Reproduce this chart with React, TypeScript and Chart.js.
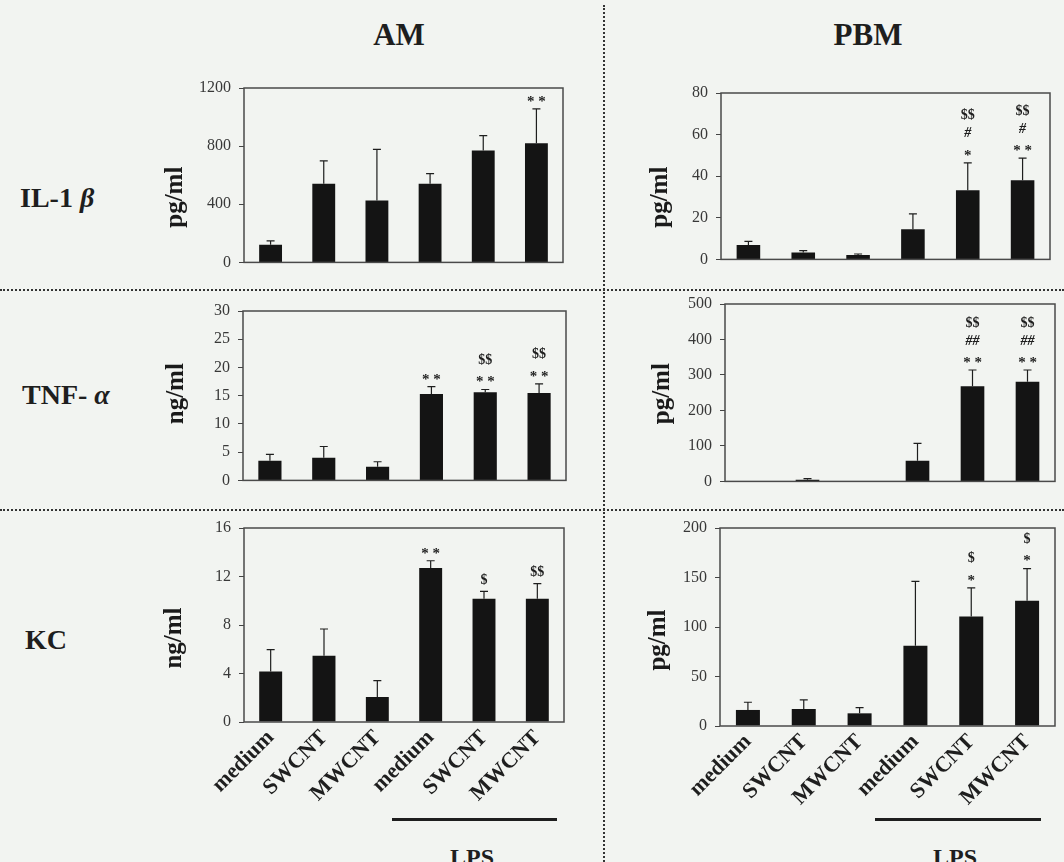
import React, { useEffect, useRef } from 'react';
import { Chart, registerables } from 'chart.js';

Chart.register(...registerables);

// ---------- data ----------
const categories = ['medium', 'SWCNT', 'MWCNT', 'medium', 'SWCNT', 'MWCNT'];

const amIl1bMean = [122, 541, 426, 541, 770, 820];
const amIl1bErr = [26, 157, 352, 70, 102, 237];
const amIl1bTicks = [0, 400, 800, 1200];
const amIl1bSig = [[], [], [], [], [], ['**']];

const pbmIl1bMean = [6.9, 3.3, 2.1, 14.5, 33.2, 38.0];
const pbmIl1bErr = [1.8, 0.9, 0.5, 7.4, 13.2, 10.7];
const pbmIl1bTicks = [0, 20, 40, 60, 80];
const pbmIl1bSig = [[], [], [], [], ['*', '#', '$$'], ['**', '#', '$$']];

const amTnfMean = [3.5, 4.0, 2.4, 15.3, 15.6, 15.5];
const amTnfErr = [1.1, 2.0, 0.9, 1.3, 0.5, 1.6];
const amTnfTicks = [0, 5, 10, 15, 20, 25, 30];
const amTnfSig = [[], [], [], ['**'], ['**', '$$'], ['**', '$$']];

const pbmTnfMean = [0, 5, 0, 58, 268, 281];
const pbmTnfErr = [0, 3, 0, 49, 46, 33];
const pbmTnfTicks = [0, 100, 200, 300, 400, 500];
const pbmTnfSig = [[], [], [], [], ['**', '##', '$$'], ['**', '##', '$$']];

const amKcMean = [4.17, 5.47, 2.06, 12.7, 10.17, 10.17];
const amKcErr = [1.8, 2.2, 1.35, 0.6, 0.6, 1.25];
const amKcTicks = [0, 4, 8, 12, 16];
const amKcSig = [[], [], [], ['**'], ['$'], ['$$']];

const pbmKcMean = [16.2, 17.2, 12.8, 81, 110.6, 126.5];
const pbmKcErr = [7.8, 9.1, 5.7, 65, 29, 32.5];
const pbmKcTicks = [0, 50, 100, 150, 200];
const pbmKcSig = [[], [], [], [], ['*', '$'], ['*', '$']];

const columnTitles = ['AM', 'PBM'];
const groupLabel = 'LPS';

// ---------- panels (built from the arrays) ----------
const panels = [
  { mean: amIl1bMean, err: amIl1bErr, ticks: amIl1bTicks, sig: amIl1bSig, unit: 'pg/ml' },
  { mean: pbmIl1bMean, err: pbmIl1bErr, ticks: pbmIl1bTicks, sig: pbmIl1bSig, unit: 'pg/ml' },
  { mean: amTnfMean, err: amTnfErr, ticks: amTnfTicks, sig: amTnfSig, unit: 'ng/ml' },
  { mean: pbmTnfMean, err: pbmTnfErr, ticks: pbmTnfTicks, sig: pbmTnfSig, unit: 'pg/ml' },
  { mean: amKcMean, err: amKcErr, ticks: amKcTicks, sig: amKcSig, unit: 'ng/ml' },
  { mean: pbmKcMean, err: pbmKcErr, ticks: pbmKcTicks, sig: pbmKcSig, unit: 'pg/ml' },
];

// ---------- layout (styles only) ----------
const GEOM = [
  { l: 244, r: 563, t: 88, b: 272, tdx: 68, tdy: 22 },
  { l: 721, r: 1050, t: 93, b: 269, tdx: 60, tdy: 21 },
  { l: 243, r: 566, t: 311, b: 490, tdx: 66, tdy: -2 },
  { l: 725, r: 1055, t: 304, b: 491, tdx: 62, tdy: 1 },
  { l: 244, r: 564, t: 528, b: 722, tdx: 69, tdy: 13 },
  { l: 720, r: 1055, t: 528, b: 726, tdx: 61, tdy: 13 },
];

const SERIF = '"Liberation Serif", "Times New Roman", serif';

function Panel({ spec, geom, last }: any) {
  const ref = useRef<HTMLCanvasElement>(null);
  const padL = 110;
  const padT = 26;
  const padR = 8;
  const cl = geom.l - padL;
  const ct = geom.t - padT;
  const cw = geom.r - geom.l + padL + padR;
  const xH = last ? 862 - geom.b : 8;
  const ch = geom.b - ct + xH;

  useEffect(() => {
    const overlay = {
      id: 'overlay' + geom.l + geom.t,
      afterDatasetsDraw(chart: any) {
        const { ctx } = chart;
        const y = chart.scales.y;
        const meta = chart.getDatasetMeta(0);
        ctx.save();
        ctx.strokeStyle = '#1e1e1e';
        ctx.lineWidth = 1.2;
        meta.data.forEach((bar: any, i: number) => {
          const e = spec.err[i];
          if (!e) return;
          const x = bar.x;
          const y0 = y.getPixelForValue(spec.mean[i]);
          const y1 = y.getPixelForValue(spec.mean[i] + e);
          ctx.beginPath();
          ctx.moveTo(x, y0);
          ctx.lineTo(x, y1);
          ctx.moveTo(x - 4, y1);
          ctx.lineTo(x + 4, y1);
          ctx.stroke();
        });
        ctx.fillStyle = '#1e1e1e';
        ctx.textAlign = 'center';
        ctx.textBaseline = 'middle';
        meta.data.forEach((bar: any, i: number) => {
          const notes = spec.sig[i] || [];
          const top = y.getPixelForValue(spec.mean[i] + (spec.err[i] || 0));
          notes.forEach((s: string, k: number) => {
            const yy = top - 11 - k * 18;
            if (s.indexOf('*') >= 0) {
              ctx.font = 'bold 15px ' + SERIF;
              ctx.fillText(s.split('').join(' '), bar.x, yy + 4);
            } else if (s.indexOf('#') >= 0) {
              ctx.font = 'italic bold 14px ' + SERIF;
              ctx.fillText(s, bar.x, yy);
            } else {
              ctx.font = 'bold 14px ' + SERIF;
              ctx.fillText(s, bar.x, yy);
            }
          });
        });
        ctx.restore();
      },
      afterDraw(chart: any) {
        const { ctx, chartArea: a } = chart;
        ctx.save();
        ctx.strokeStyle = '#4a4a4a';
        ctx.lineWidth = 1.5;
        ctx.strokeRect(a.left, a.top, a.right - a.left, a.bottom - a.top);
        ctx.translate(a.left - geom.tdx, (a.top + a.bottom) / 2 + geom.tdy);
        ctx.rotate(-Math.PI / 2);
        ctx.fillStyle = '#1a1a1a';
        ctx.font = 'bold 25px ' + SERIF;
        ctx.textAlign = 'center';
        ctx.textBaseline = 'middle';
        ctx.fillText(spec.unit, 0, 0);
        ctx.restore();
      },
    };

    const chart = new Chart(ref.current as HTMLCanvasElement, {
      type: 'bar',
      data: {
        labels: categories,
        datasets: [
          {
            data: spec.mean,
            backgroundColor: '#141414',
            borderWidth: 0,
            barPercentage: 0.43,
            categoryPercentage: 1,
          },
        ],
      },
      options: {
        responsive: false,
        animation: false,
        layout: { padding: { left: 0, top: padT, right: padR, bottom: 0 } },
        plugins: { legend: { display: false }, tooltip: { enabled: false } },
        scales: {
          x: {
            type: 'category',
            offset: true,
            grid: { display: false, drawTicks: false },
            border: { display: false },
            ticks: {
              display: last,
              autoSkip: false,
              minRotation: 45,
              maxRotation: 45,
              padding: 3,
              color: '#1e1e1e',
              font: { family: SERIF, weight: 'bold', size: 22 },
            },
            afterFit: (s: any) => {
              s.height = xH;
            },
          },
          y: {
            type: 'linear',
            min: spec.ticks[0],
            max: spec.ticks[spec.ticks.length - 1],
            grid: { display: true, drawOnChartArea: false, drawTicks: true, tickLength: 5, color: '#444' },
            border: { display: false },
            afterBuildTicks: (s: any) => {
              s.ticks = spec.ticks.map((v: number) => ({ value: v }));
            },
            ticks: {
              padding: 8,
              color: '#383838',
              font: { family: SERIF, size: 16 },
              callback: (v: any) => String(v),
            },
            afterFit: (s: any) => {
              s.width = padL;
            },
          },
        },
      },
      plugins: [overlay],
    } as any);
    return () => chart.destroy();
  }, []);

  return (
    <canvas
      ref={ref}
      width={cw}
      height={ch}
      style={{ position: 'absolute', left: cl, top: ct, width: cw, height: ch }}
    />
  );
}

export default function App() {
  const text = (s: any, style: any) => (
    <div style={{ position: 'absolute', whiteSpace: 'nowrap', lineHeight: 1, fontWeight: 'bold', ...style }}>{s}</div>
  );
  return (
    <div
      style={{
        position: 'absolute',
        left: 0,
        top: 0,
        width: 1064,
        height: 862,
        overflow: 'hidden',
        background: '#f2f4f1',
        fontFamily: SERIF,
        color: '#1e1e1e',
      }}
    >
      {text(columnTitles[0], { left: 349, width: 100, textAlign: 'center', top: 19, fontSize: 31 })}
      {text(columnTitles[1], { left: 818, width: 100, textAlign: 'center', top: 19, fontSize: 31 })}

      {text(<span>IL-1 <i>β</i></span>, { left: 20, top: 184, fontSize: 28 })}
      {text(<span>TNF- <i>α</i></span>, { left: 22, top: 381, fontSize: 28 })}
      {text('KC', { left: 25, top: 626, fontSize: 28 })}

      <div style={{ position: 'absolute', left: 603, top: 5, height: 857, borderLeft: '2px dotted #333' }} />
      <div style={{ position: 'absolute', left: 0, top: 289, width: 1064, borderTop: '2px dotted #333' }} />
      <div style={{ position: 'absolute', left: 0, top: 509, width: 1064, borderTop: '2px dotted #333' }} />

      <div style={{ position: 'absolute', left: 392, top: 818, width: 165, height: 3, background: '#1e1e1e' }} />
      <div style={{ position: 'absolute', left: 875, top: 818, width: 166, height: 3, background: '#1e1e1e' }} />
      {text(groupLabel, { left: 422, width: 100, textAlign: 'center', top: 845, fontSize: 24 })}
      {text(groupLabel, { left: 905, width: 100, textAlign: 'center', top: 845, fontSize: 24 })}

      {panels.map((p, i) => (
        <Panel key={i} spec={p} geom={GEOM[i]} last={i >= 4} />
      ))}
    </div>
  );
}
